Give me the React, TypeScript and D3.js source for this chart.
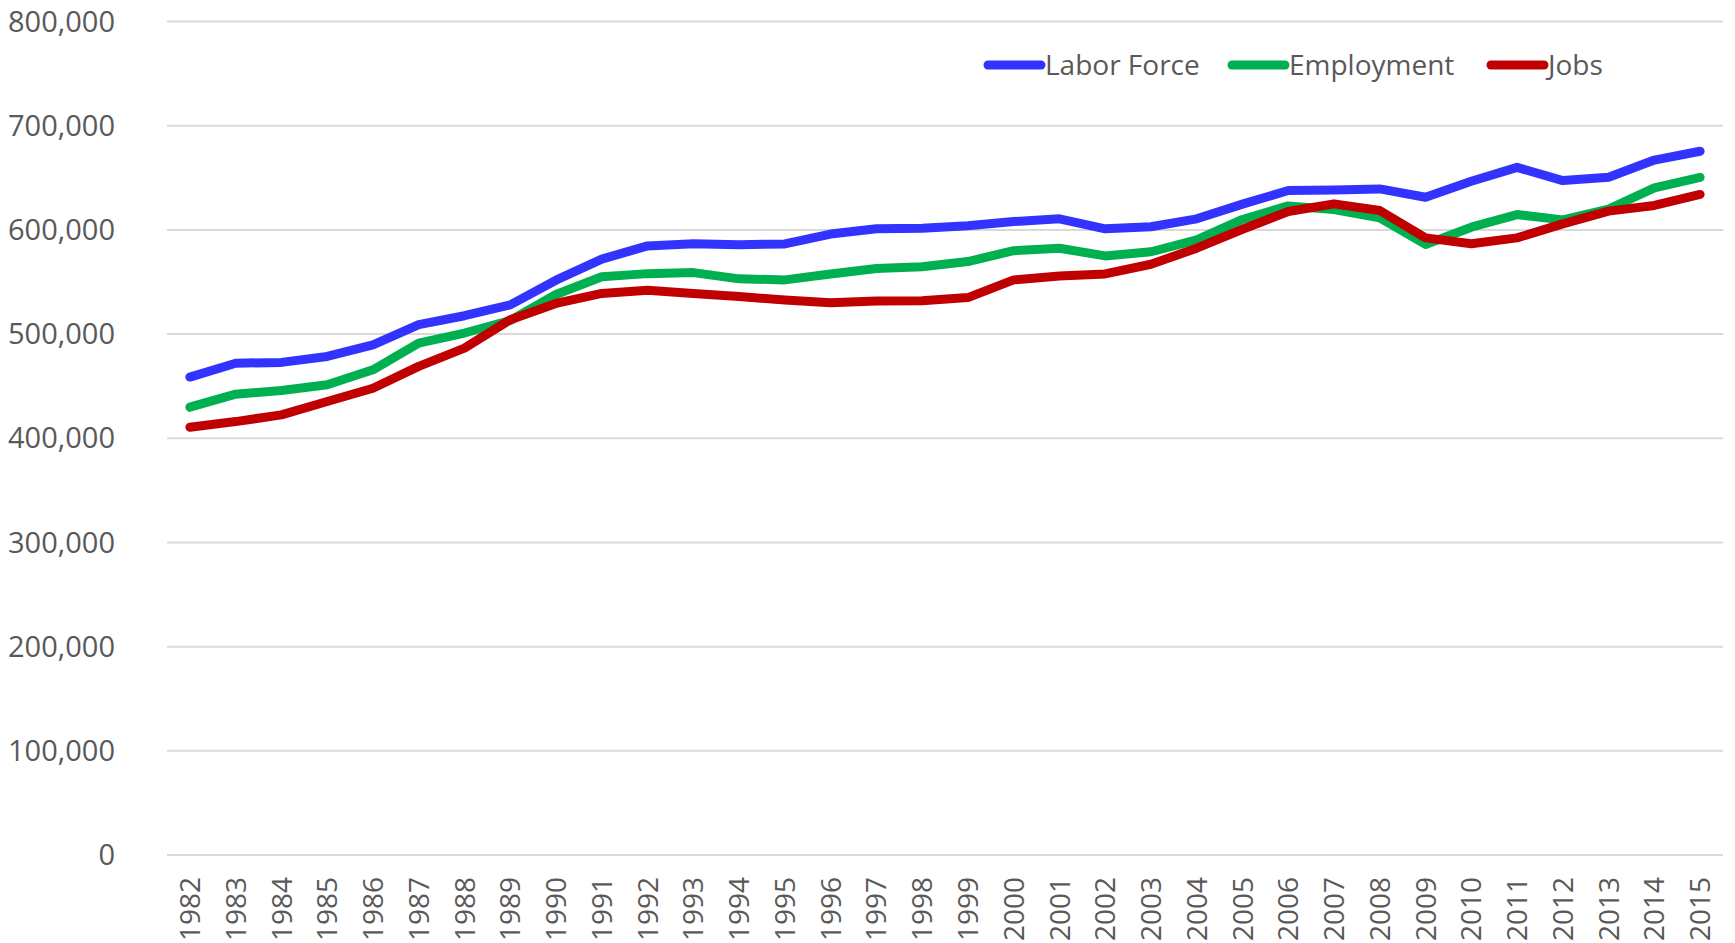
import React, { useEffect } from 'react';
import * as d3 from 'd3';

// --- Data ---
const years = [
  1982, 1983, 1984, 1985, 1986, 1987, 1988, 1989, 1990, 1991, 1992, 1993, 1994, 1995, 1996, 1997, 1998,
  1999, 2000, 2001, 2002, 2003, 2004, 2005, 2006, 2007, 2008, 2009, 2010, 2011, 2012, 2013, 2014, 2015,
];
const laborForce = [
  458700, 472000, 472800, 478500, 489700, 509000, 517600, 528000, 551700, 571900, 584600, 586700, 585700,
  586500, 596000, 601000, 601600, 604000, 608000, 610600, 601000, 603000, 610600, 624700, 637800, 638300,
  639300, 631300, 646700, 660000, 647300, 650500, 667000, 675500,
];
const employment = [
  429800, 442300, 445800, 451300, 465700, 491300, 501000, 513000, 538000, 555000, 558000, 559000, 553000,
  552000, 557700, 563000, 564700, 569600, 580000, 582400, 575000, 579000, 590400, 610000, 623000, 619500,
  611500, 586000, 602600, 614700, 609600, 620000, 640300, 650500,
];
const jobs = [
  410600, 416000, 422400, 435300, 448000, 469000, 486500, 513800, 529400, 539000, 542000, 539000, 536000,
  532700, 530000, 531700, 532000, 535000, 552000, 555800, 557700, 567000, 582400, 600600, 617600, 625000,
  618600, 592300, 586600, 592300, 605800, 618000, 623400, 634000,
];
const yTicks = [0, 100000, 200000, 300000, 400000, 500000, 600000, 700000, 800000];

const seriesList = [
  { name: 'Labor Force', values: laborForce, color: '#3333FF' },
  { name: 'Employment', values: employment, color: '#00B050' },
  { name: 'Jobs', values: jobs, color: '#C00000' },
];

// --- Layout ---
const W = 1735;
const H = 943;
const plot = { left: 167, right: 1723, top: 21.5, bottom: 855 };
const legendX = [988, 1232, 1491];
const legendY = 65;
const font = '"Open Sans", "Liberation Sans", sans-serif';
const textColor = '#595959';

export default function App() {
  useEffect(() => {
    document.body.style.margin = '0';
  }, []);

  const x = d3.scaleBand<number>().domain(years).range([plot.left, plot.right]);
  const y = d3.scaleLinear().domain([0, 800000]).range([plot.bottom, plot.top]);
  const fmt = d3.format(',');

  const line = (vals: number[]) =>
    d3
      .line<number>()
      .x((_, i) => (x(years[i]) as number) + x.bandwidth() / 2)
      .y((d) => y(d))(vals) as string;

  return (
    <svg width={W} height={H} style={{ display: 'block', background: '#fff' }}>
      {/* gridlines */}
      {yTicks.map((t) => (
        <line key={t} x1={plot.left} x2={plot.right} y1={y(t)} y2={y(t)} stroke="#D9D9D9" strokeWidth={2} />
      ))}
      {/* y labels */}
      {yTicks.map((t) => (
        <text
          key={'l' + t}
          x={115}
          y={y(t)}
          dy="0.35em"
          textAnchor="end"
          fontFamily={font}
          fontSize={29}
          fill={textColor}
        >
          {fmt(t)}
        </text>
      ))}
      {/* x labels */}
      {years.map((yr) => (
        <text
          key={yr}
          transform={`translate(${(x(yr) as number) + x.bandwidth() / 2},877) rotate(-90)`}
          dy="0.36em"
          textAnchor="end"
          fontFamily={font}
          fontSize={28}
          fill={textColor}
        >
          {yr}
        </text>
      ))}
      {/* series */}
      {seriesList.map((s) => (
        <path
          key={s.name}
          d={line(s.values)}
          fill="none"
          stroke={s.color}
          strokeWidth={9}
          strokeLinejoin="round"
          strokeLinecap="round"
        />
      ))}
      {/* legend */}
      {seriesList.map((s, i) => (
        <g key={'lg' + s.name} transform={`translate(${legendX[i]},${legendY})`}>
          <line x1={0} x2={53} y1={0} y2={0} stroke={s.color} strokeWidth={9} strokeLinecap="round" />
          <text x={57} y={0} dy="0.35em" fontFamily={font} fontSize={28} fill={textColor}>
            {s.name}
          </text>
        </g>
      ))}
    </svg>
  );
}
